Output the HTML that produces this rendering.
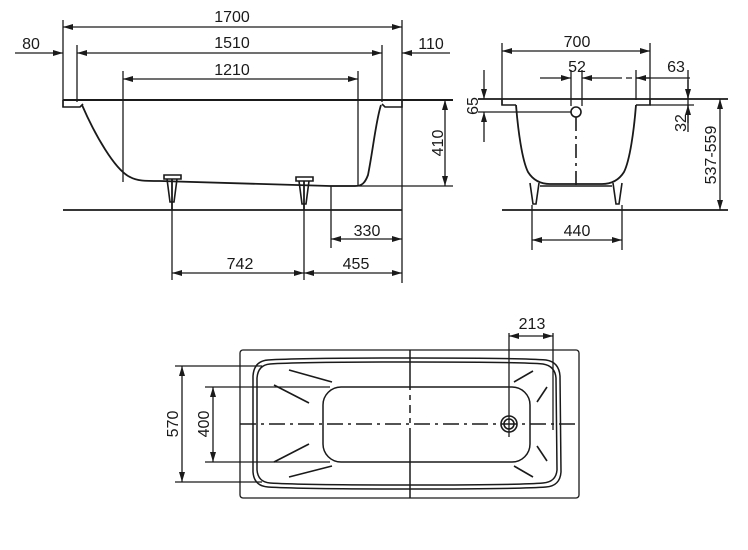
<!DOCTYPE html>
<html><head><meta charset="utf-8"><style>
html,body{margin:0;padding:0;background:#fff;}
svg{display:block;}
text{font-family:"Liberation Sans",Arial,sans-serif;font-size:16px;fill:#1a1a1a;}
</style></head><body>
<svg width="748" height="550" viewBox="0 0 748 550" xmlns="http://www.w3.org/2000/svg">
<defs>
<marker id="a" viewBox="0 0 10 6" refX="10" refY="3" markerWidth="11" markerHeight="6" markerUnits="userSpaceOnUse" orient="auto-start-reverse"><path d="M0,0 L10,3 L0,6 z" fill="#1a1a1a"/></marker>
</defs>
<g stroke="#1a1a1a" stroke-width="1.3" fill="none">
<!-- SIDE VIEW -->
<line x1="63" y1="20" x2="63" y2="107"/>
<line x1="402" y1="20" x2="402" y2="283"/>
<line x1="77" y1="45" x2="77" y2="102"/>
<line x1="382" y1="45" x2="382" y2="102"/>
<line x1="123" y1="71" x2="123" y2="182"/>
<line x1="358" y1="71" x2="358" y2="185"/>
<line x1="63" y1="27" x2="402" y2="27" marker-start="url(#a)" marker-end="url(#a)"/>
<line x1="15" y1="53" x2="63" y2="53" marker-end="url(#a)"/>
<line x1="77" y1="53" x2="382" y2="53" marker-start="url(#a)" marker-end="url(#a)"/>
<line x1="450" y1="53" x2="402" y2="53" marker-end="url(#a)"/>
<line x1="123" y1="79" x2="358" y2="79" marker-start="url(#a)" marker-end="url(#a)"/>
<line x1="63" y1="100" x2="453" y2="100" stroke-width="2"/>
<path d="M63,100 V107 H80 L83,104 M402,100 V107 H385 L382,104" stroke-width="1.6"/>
<path d="M82,105 C95,135 115,170 130,177 C137,181 145,181 160,181 L330,186 L355,186 C362,186 365,183 368,175 C373,150 376,120 381,105" stroke-width="1.8"/>
<!-- feet -->
<path d="M164,175 H181 V179 H164 Z M167,179 L170,202 H174 L177,179 M296,177 H313 V181 H296 Z M299,181 L302,204 H306 L309,181" stroke-width="1.6"/>
<line x1="172" y1="179" x2="172" y2="210" stroke-width="1.8"/>
<line x1="304" y1="181" x2="304" y2="210" stroke-width="1.8"/>
<line x1="63" y1="210" x2="402" y2="210" stroke-width="1.7"/>
<line x1="330" y1="186" x2="453" y2="186"/>
<line x1="445" y1="100" x2="445" y2="186" marker-start="url(#a)" marker-end="url(#a)"/>
<line x1="331" y1="186" x2="331" y2="248"/>
<line x1="331" y1="239" x2="402" y2="239" marker-start="url(#a)" marker-end="url(#a)"/>
<line x1="172" y1="210" x2="172" y2="280"/>
<line x1="304" y1="210" x2="304" y2="280"/>
<line x1="172" y1="273" x2="304" y2="273" marker-start="url(#a)" marker-end="url(#a)"/>
<line x1="304" y1="273" x2="402" y2="273" marker-start="url(#a)" marker-end="url(#a)"/>

<!-- FRONT VIEW -->
<line x1="502" y1="43" x2="502" y2="105"/>
<line x1="650" y1="43" x2="650" y2="105"/>
<line x1="502" y1="51" x2="650" y2="51" marker-start="url(#a)" marker-end="url(#a)"/>
<line x1="571" y1="70" x2="571" y2="106"/>
<line x1="582" y1="70" x2="582" y2="106"/>
<line x1="540" y1="78" x2="571" y2="78" marker-end="url(#a)"/>
<line x1="582" y1="78" x2="690" y2="78" marker-start="url(#a)" stroke-dasharray="40,4,6,4,60"/>
<line x1="650" y1="78" x2="636" y2="78" marker-end="url(#a)"/>
<line x1="636" y1="70" x2="636" y2="100"/>
<line x1="688" y1="70" x2="688" y2="132"/>
<line x1="688" y1="80" x2="688" y2="99" marker-end="url(#a)"/>
<line x1="688" y1="123" x2="688" y2="105" marker-end="url(#a)"/>
<line x1="650" y1="105" x2="694" y2="105"/>
<line x1="478" y1="99" x2="728" y2="99" stroke-width="1.7"/>
<path d="M502,99 V105 H516 M650,99 V105 H636" stroke-width="1.6"/>
<line x1="484" y1="70" x2="484" y2="99" marker-end="url(#a)"/>
<line x1="484" y1="142" x2="484" y2="112" marker-end="url(#a)"/>
<line x1="478" y1="112" x2="571" y2="112"/>
<circle cx="576" cy="112" r="5" stroke-width="1.6"/>
<line x1="576" y1="117" x2="576" y2="185" stroke-dasharray="14,5,3,5" stroke-width="1.6"/>
<path d="M516,105 C518,130 522,160 528,172 C533,180 540,184 550,184 L602,184 C612,184 619,180 624,172 C630,160 634,130 636,105" stroke-width="1.8"/>
<path d="M530,183 L533,204 H536 L539,183 M613,183 L616,204 H619 L622,183 M540,186 H612" stroke-width="1.6"/>
<line x1="720" y1="99" x2="720" y2="210" marker-start="url(#a)" marker-end="url(#a)"/>
<line x1="502" y1="210" x2="728" y2="210" stroke-width="1.7"/>
<line x1="532" y1="205" x2="532" y2="250"/>
<line x1="622" y1="205" x2="622" y2="250"/>
<line x1="532" y1="240" x2="622" y2="240" marker-start="url(#a)" marker-end="url(#a)"/>

<!-- TOP VIEW -->
<rect x="240" y="350" width="339" height="148" rx="3"/>
<path d="M268,360 Q300,358 410,358 Q520,358 546,360 Q559,362 560,376 L561,472 Q560,486 546,487 Q520,489 410,489 Q300,489 268,487 Q254,486 253,472 L253,376 Q254,361 268,360 Z" stroke-width="1.5"/>
<path d="M270,364 Q300,362 410,362 Q520,362 543,364 Q555,366 556,378 L557,470 Q556,482 543,483 Q520,485 410,485 Q300,485 270,483 Q258,482 257,470 L257,378 Q258,365 270,364 Z" stroke-width="1.5"/>
<rect x="323" y="387" width="207" height="75" rx="18" stroke-width="1.5"/>
<line x1="410" y1="350" x2="410" y2="498" stroke-dasharray="40,5,5,5,8,5,5,5,70" stroke-width="1.5"/>
<line x1="240" y1="424" x2="579" y2="424" stroke-dasharray="16,5,3,5" stroke-width="1.5"/>
<line x1="289" y1="370" x2="332" y2="382" stroke-width="1.6"/>
<line x1="274" y1="385" x2="309" y2="403" stroke-width="1.6"/>
<line x1="274" y1="462" x2="309" y2="444" stroke-width="1.6"/>
<line x1="289" y1="477" x2="332" y2="466" stroke-width="1.6"/>
<line x1="514" y1="382" x2="533" y2="371" stroke-width="1.6"/>
<line x1="537" y1="402" x2="547" y2="387" stroke-width="1.6"/>
<line x1="537" y1="446" x2="547" y2="461" stroke-width="1.6"/>
<line x1="514" y1="466" x2="533" y2="477" stroke-width="1.6"/>
<circle cx="509" cy="424" r="8" stroke-width="1.6"/>
<circle cx="509" cy="424" r="5" stroke-width="1.6"/>
<line x1="509" y1="333" x2="509" y2="437"/>
<line x1="553" y1="333" x2="553" y2="430"/>
<line x1="509" y1="336" x2="553" y2="336" marker-start="url(#a)" marker-end="url(#a)"/>
<line x1="175" y1="366" x2="262" y2="366"/>
<line x1="175" y1="482" x2="262" y2="482"/>
<line x1="182" y1="366" x2="182" y2="482" marker-start="url(#a)" marker-end="url(#a)"/>
<line x1="205" y1="387" x2="330" y2="387"/>
<line x1="205" y1="462" x2="330" y2="462"/>
<line x1="213" y1="387" x2="213" y2="462" marker-start="url(#a)" marker-end="url(#a)"/>
</g>
<g text-anchor="middle">
<text x="232" y="22">1700</text>
<text x="232" y="48">1510</text>
<text x="232" y="75">1210</text>
<text x="31" y="49">80</text>
<text x="431" y="49">110</text>
<text x="367" y="236">330</text>
<text x="240" y="269">742</text>
<text x="356" y="269">455</text>
<text transform="translate(443,143) rotate(-90)">410</text>
<text x="577" y="47">700</text>
<text x="577" y="72">52</text>
<text x="676" y="72">63</text>
<text x="577" y="236">440</text>
<text transform="translate(478,106) rotate(-90)">65</text>
<text transform="translate(686,123) rotate(-90)">32</text>
<text transform="translate(716,155) rotate(-90)">537-559</text>
<text x="532" y="329">213</text>
<text transform="translate(178,424) rotate(-90)">570</text>
<text transform="translate(209,424) rotate(-90)">400</text>
</g>
</svg>
</body></html>
